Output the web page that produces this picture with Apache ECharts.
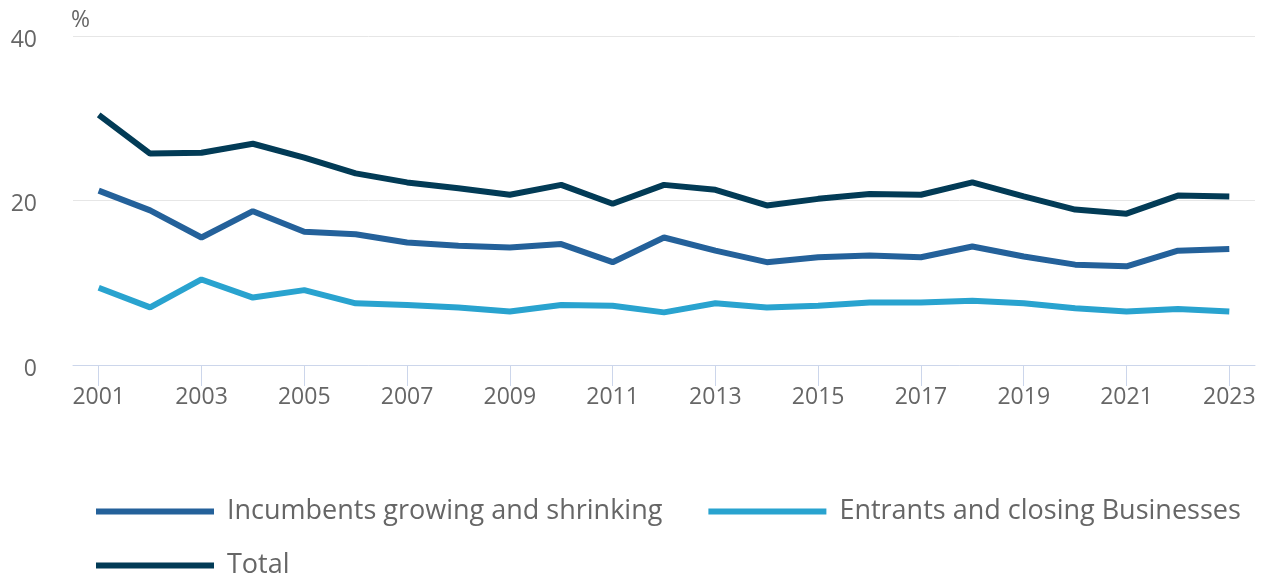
<!DOCTYPE html>
<html>
<head>
<meta charset="utf-8">
<script src="https://cdn.jsdelivr.net/npm/echarts@6/dist/echarts.min.js"></script>
<style>
html,body{margin:0;padding:0;background:#fff;}
#chart{width:1265px;height:573px;}
</style>
</head>
<body>
<div id="chart"></div>
<script>
const years = ['2001','2002','2003','2004','2005','2006','2007','2008','2009','2010','2011','2012','2013','2014','2015','2016','2017','2018','2019','2020','2021','2022','2023'];
const incumbents = [21.2,18.8,15.5,18.7,16.2,15.9,14.9,14.5,14.3,14.7,12.5,15.5,13.9,12.5,13.1,13.3,13.1,14.4,13.2,12.2,12.0,13.9,14.1];
const entrants = [9.4,7.0,10.4,8.2,9.1,7.5,7.3,7.0,6.5,7.3,7.2,6.4,7.5,7.0,7.2,7.6,7.6,7.8,7.5,6.9,6.5,6.8,6.5];
const total = [30.4,25.7,25.8,26.9,25.2,23.3,22.2,21.5,20.7,21.9,19.6,21.9,21.3,19.4,20.2,20.8,20.7,22.2,20.5,18.9,18.4,20.6,20.5];
const yTicks = [0,20,40];

const names = ['Incumbents growing and shrinking','Entrants and closing Businesses','Total'];
const colors = ['#24619a','#29a3cf','#023b56'];
const font = 'Open Sans';

const chart = echarts.init(document.getElementById('chart'), null, {renderer:'canvas'});
const legendCommon = {
  orient:'horizontal', icon:'rect', itemWidth:118, itemHeight:6, itemGap:46,
  textStyle:{fontFamily:font, fontSize:27, color:'#666666', padding:[0,0,0,8]},
  selectedMode:false
};
chart.setOption({
  animation:false,
  grid:{left:73, right:10, top:36, bottom:208, containLabel:false},
  legend:[
    Object.assign({}, legendCommon, {data:[names[0],names[1]], left:91, top:493}),
    Object.assign({}, legendCommon, {data:[names[2]], left:91, top:547})
  ],
  xAxis:{
    type:'category', data:years, boundaryGap:true,
    axisLine:{show:true, lineStyle:{color:'#ccd6eb', width:1}},
    axisTick:{show:true, alignWithLabel:true, length:21, interval:1, lineStyle:{color:'#ccd6eb'}},
    axisLabel:{interval:1, fontFamily:font, fontSize:23, color:'#666666', margin:21}
  },
  yAxis:{
    type:'value', min:yTicks[0], max:yTicks[yTicks.length-1], interval:20,
    name:'%', nameLocation:'end', nameGap:4,
    nameTextStyle:{fontFamily:font, fontSize:23, color:'#666666', align:'left', padding:[0,0,0,-2]},
    axisLine:{show:false}, axisTick:{show:false},
    splitLine:{lineStyle:{color:'#e6e6e6', width:1}},
    axisLabel:{fontFamily:font, fontSize:23, color:'#666666', margin:36, verticalAlign:'top', lineHeight:8}
  },
  series:[
    {name:names[0], type:'line', data:incumbents, color:colors[0], symbol:'none', lineStyle:{width:6}},
    {name:names[1], type:'line', data:entrants, color:colors[1], symbol:'none', lineStyle:{width:6}},
    {name:names[2], type:'line', data:total, color:colors[2], symbol:'none', lineStyle:{width:6}}
  ]
});
</script>
</body>
</html>
